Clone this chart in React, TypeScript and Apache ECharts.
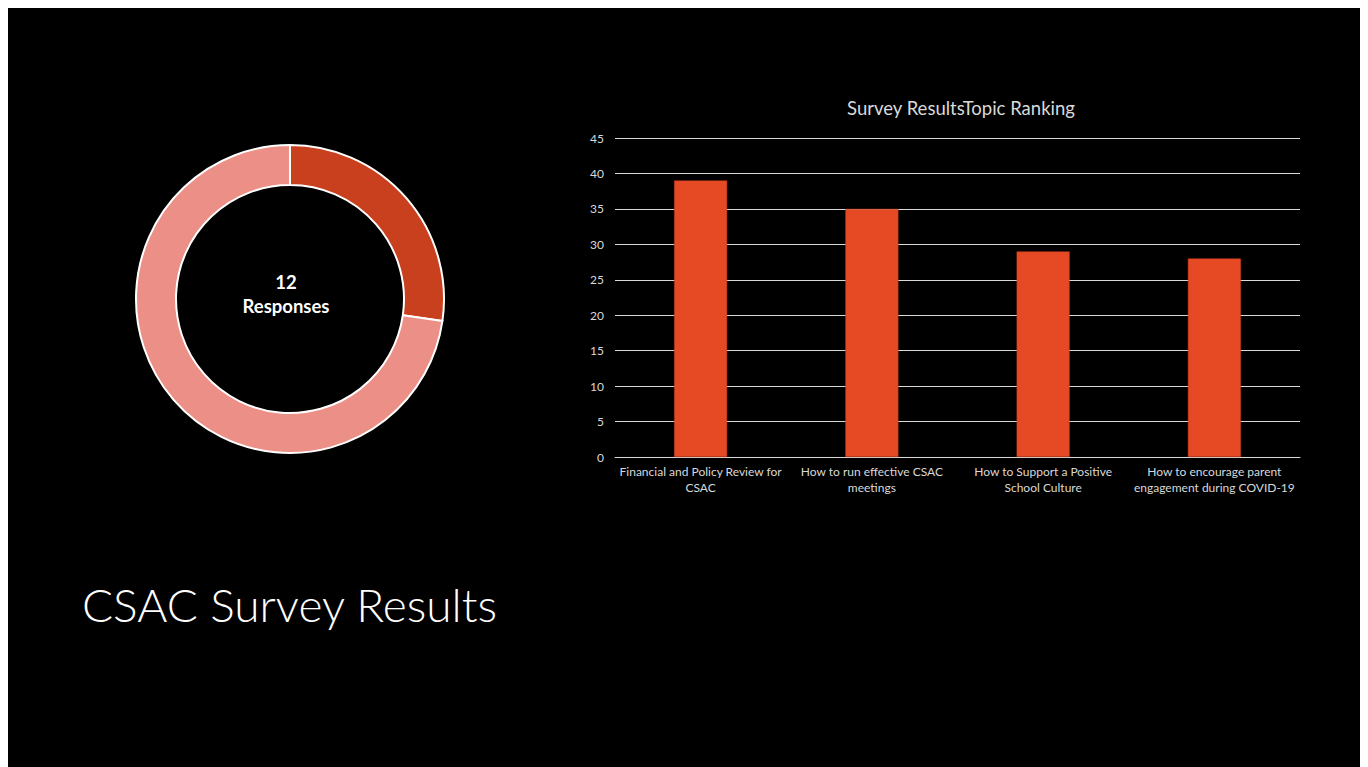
import React, { useEffect, useRef } from "react";
import * as echarts from "echarts";

const pageTitle = "CSAC Survey Results";
const barTitle = "Survey ResultsTopic Ranking";
const donutNames = ["Topic A", "Other"];
const donutValues = [3, 8];
const donutCenterLines = ["12", "Responses"];
const categories = [
  "Financial and Policy Review for\nCSAC",
  "How to run effective CSAC\nmeetings",
  "How to Support a Positive\nSchool Culture",
  "How to encourage parent\nengagement during COVID-19",
];
const rankingValues = [39, 35, 29, 28];

const FONT = "Lato, 'Open Sans', sans-serif";

export default function App() {
  const ref = useRef<HTMLDivElement>(null);
  useEffect(() => {
    if (!ref.current) return;
    const chart = echarts.init(ref.current, undefined, { renderer: "svg" });
    chart.setOption({
      animation: false,
      backgroundColor: "#000000",
      title: {
        text: barTitle,
        left: 948,
        top: 85,
        textAlign: "center",
        textStyle: { color: "#d9d9d9", fontSize: 18.5, fontWeight: "normal", fontFamily: FONT },
      },
      graphic: [
        {
          type: "text",
          left: 74,
          top: 573,
          style: { text: pageTitle, fill: "#ffffff", fontSize: 46, fontWeight: 300, fontFamily: FONT },
        },
        {
          type: "text",
          x: 278,
          y: 286,
          style: {
            text: donutCenterLines.join("\n"),
            fill: "#ffffff",
            fontSize: 18.5,
            fontWeight: "bold",
            fontFamily: FONT,
            align: "center",
            verticalAlign: "middle",
            lineHeight: 24,
          },
        },
      ],
      grid: { left: 607, top: 130, width: 685, height: 319, containLabel: false },
      xAxis: {
        type: "category",
        data: categories,
        axisLine: { show: true, lineStyle: { color: "#d9d9d9", width: 1 } },
        axisTick: { show: false },
        axisLabel: { color: "#d9d9d9", fontSize: 12, fontFamily: FONT, lineHeight: 16, margin: 6, interval: 0 },
      },
      yAxis: {
        type: "value",
        min: 0,
        max: 45,
        interval: 5,
        axisLine: { show: false },
        axisTick: { show: false },
        splitLine: { lineStyle: { color: "#d9d9d9", width: 1 } },
        axisLabel: { color: "#d9d9d9", fontSize: 12, fontFamily: FONT, margin: 11 },
      },
      series: [
        {
          type: "bar",
          data: rankingValues,
          barWidth: 53,
          itemStyle: { color: "#E64A24", borderColor: "#C83E1E", borderWidth: 0.5 },
        },
        {
          type: "pie",
          center: [282, 291],
          radius: [114, 154],
          startAngle: 90,
          clockwise: true,
          label: { show: false },
          labelLine: { show: false },
          itemStyle: { borderColor: "#ffffff", borderWidth: 2 },
          data: donutNames.map((n, i) => ({
            name: n,
            value: donutValues[i],
            itemStyle: { color: i === 0 ? "#C8401E" : "#EC8F87" },
          })),
        },
      ],
    });
    return () => chart.dispose();
  }, []);
  return <div ref={ref} style={{ width: 1360, height: 759 }} />;
}
